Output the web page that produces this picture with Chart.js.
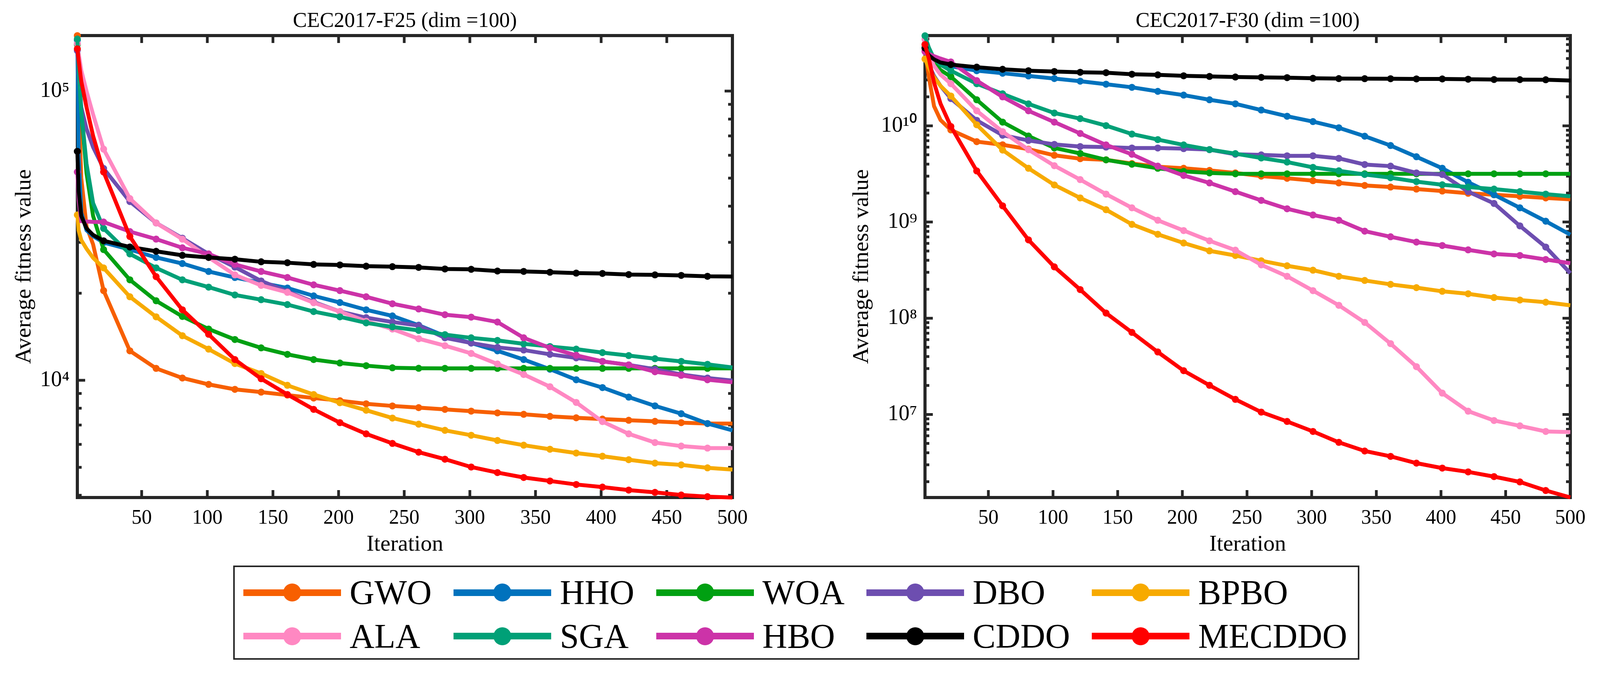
<!DOCTYPE html>
<html>
<head>
<meta charset="utf-8">
<script src="https://cdn.jsdelivr.net/npm/chart.js@4.4.1/dist/chart.umd.min.js"></script>
<style>
  body { margin: 0; width: 4102px; height: 1745px; background: #fff; position: relative; overflow: hidden; font-family: "Liberation Serif", serif; }
  canvas { position: absolute; top: 0; }
  #c1 { left: 0; }
  #c2 { left: 2051px; }
  #legend { position: absolute; left: 597px; top: 1447px; height: 241px; box-sizing: border-box;
            border: 4px solid #262626; padding: 10px 27px 0 22px;
            display: grid; grid-template-columns: repeat(5, auto); column-gap: 56px; }
  .item { display: flex; align-items: center; height: 110px; }
  .sample { position: relative; width: 250px; height: 17px; margin-right: 22px; }
  .sample i { position: absolute; left: 102px; top: -14.5px; width: 46px; height: 46px; border-radius: 50%; }
  .item span { font-size: 88px; line-height: 1; color: #000; }
</style>
</head>
<body>
<canvas id="c1" width="2051" height="1440"></canvas>
<canvas id="c2" width="2051" height="1440"></canvas>
<div id="legend"></div>
<script>
var iters = [1,2,4,8,13,21,41,61,81,101,121,141,161,181,201,221,241,261,281,301,321,341,361,381,401,421,441,461,481,500];
var xTicks = [50,100,150,200,250,300,350,400,450,500];

var names  = ["GWO","HHO","WOA","DBO","BPBO","ALA","SGA","HBO","CDDO","MECDDO"];
var colors = ["#F75F00","#0072BD","#00A012","#6D4EB0","#F7AA00","#FF88C2","#00A077","#CC33A8","#000000","#FF0000"];

// CEC2017-F25
var f25GWO    = [155500,90000,50000,34000,29500,20420,12640,10990,10180,9675,9300,9097,8886,8680,8500,8290,8150,8040,7930,7820,7710,7625,7500,7415,7340,7270,7210,7135,7085,7080];
var f25HHO    = [150000,60000,38000,33000,31500,29930,28310,26590,25330,23780,22660,21730,20840,19580,18570,17520,16690,15500,14220,13450,12640,11790,10920,10040,9434,8743,8155,7660,7085,6710];
var f25WOA    = [145000,120000,85000,52000,37000,28310,22250,18830,16620,15030,13830,12940,12290,11790,11470,11230,11040,11000,10990,10990,10990,10990,10990,10990,10990,10990,10990,10990,10990,10990];
var f25DBO    = [138000,115000,88000,74000,64000,54000,41500,35000,30990,27340,24630,22040,20280,18650,17280,16460,15900,15460,14020,13450,12990,12720,12290,11950,11620,11300,10920,10470,10180,9975];
var f25BPBO   = [37300,33000,30500,28500,26500,24460,19440,16570,14260,12810,11420,10550,9605,8927,8360,7875,7400,7048,6710,6452,6190,5962,5773,5600,5461,5311,5168,5098,4978,4908];
var f25ALA    = [146000,135000,118000,100000,83000,63000,42500,35000,30770,26590,23140,21280,20130,18540,17280,16000,15030,13920,13170,12380,11380,10470,9500,8380,7195,6525,6088,5920,5825,5825];
var f25SGA    = [151400,120000,85000,56000,41000,33500,27340,24460,22250,20990,19720,18990,18270,17280,16570,15790,15290,14870,14380,14020,13730,13360,13080,12810,12460,12170,11870,11620,11350,11070];
var f25HBO    = [52500,42000,35500,35400,35300,35250,32670,30770,28710,27340,25150,23780,22660,21380,20420,19440,18390,17640,16850,16530,15900,14020,12940,12200,11620,11300,10700,10400,10040,9840];
var f25CDDO   = [61900,45000,37000,33500,31800,30350,28900,27920,27040,26590,26220,25680,25500,25150,25040,24800,24700,24560,24260,24190,23860,23790,23630,23470,23400,23200,23140,23040,22880,22850];
var f25MECDDO = [140000,128000,108000,88000,70000,52500,31420,22820,17520,14420,11790,10120,8927,7930,7135,6525,6047,5640,5333,5011,4793,4610,4484,4360,4270,4170,4095,4010,3957,3930];

// CEC2017-F30
var f30GWO    = [6.5e10,5.0e10,3.2e10,1.6e10,1.15e10,9.06e9,6.85e9,6.35e9,5.72e9,4.94e9,4.55e9,4.43e9,4.05e9,3.76e9,3.62e9,3.44e9,3.24e9,3.0e9,2.85e9,2.69e9,2.55e9,2.40e9,2.31e9,2.20e9,2.10e9,1.99e9,1.92e9,1.85e9,1.78e9,1.72e9];
var f30HHO    = [6.5e10,6.0e10,5.3e10,4.8e10,4.45e10,4.16e10,3.74e10,3.52e10,3.30e10,3.10e10,2.91e10,2.707e10,2.513e10,2.281e10,2.086e10,1.865e10,1.693e10,1.458e10,1.257e10,1.107e10,9.54e9,7.80e9,6.24e9,4.77e9,3.62e9,2.59e9,1.92e9,1.405e9,1.02e9,7.40e8];
var f30WOA    = [7.0e10,6.3e10,5.5e10,4.5e10,3.8e10,3.24e10,1.864e10,1.093e10,7.83e9,5.89e9,5.16e9,4.43e9,3.99e9,3.62e9,3.36e9,3.24e9,3.17e9,3.17e9,3.17e9,3.17e9,3.17e9,3.17e9,3.17e9,3.17e9,3.17e9,3.17e9,3.17e9,3.17e9,3.17e9,3.17e9];
var f30DBO    = [6.0e10,5.5e10,4.3e10,3.3e10,2.6e10,1.92e10,1.14e10,7.99e9,7.05e9,6.41e9,6.09e9,6.01e9,5.88e9,5.88e9,5.79e9,5.66e9,5.06e9,4.99e9,4.88e9,4.88e9,4.59e9,3.96e9,3.81e9,3.24e9,3.12e9,2.07e9,1.56e9,9.12e8,5.49e8,2.94e8];
var f30BPBO   = [4.95e10,4.6e10,4.0e10,3.2e10,2.6e10,2.04e10,1.026e10,5.60e9,3.62e9,2.43e9,1.78e9,1.343e9,9.46e8,7.46e8,6.05e8,5.02e8,4.49e8,3.96e8,3.51e8,3.16e8,2.73e8,2.47e8,2.25e8,2.08e8,1.906e8,1.796e8,1.642e8,1.547e8,1.468e8,1.363e8];
var f30ALA    = [7.94e10,7.0e10,5.5e10,4.2e10,3.4e10,2.74e10,1.433e10,8.69e9,5.65e9,3.85e9,2.76e9,1.95e9,1.405e9,1.043e9,8.15e8,6.38e8,5.10e8,3.59e8,2.73e8,1.935e8,1.363e8,9.05e7,5.45e7,3.14e7,1.667e7,1.082e7,8.65e6,7.62e6,6.66e6,6.56e6];
var f30SGA    = [8.63e10,7.8e10,6.5e10,5.0e10,4.3e10,3.74e10,2.74e10,2.15e10,1.69e10,1.358e10,1.188e10,1.005e10,8.21e9,7.19e9,6.33e9,5.66e9,5.14e9,4.63e9,4.20e9,3.70e9,3.41e9,3.12e9,2.89e9,2.63e9,2.44e9,2.31e9,2.20e9,2.07e9,1.95e9,1.85e9];
var f30HBO    = [5.92e10,5.8e10,5.6e10,5.3e10,5.0e10,4.61e10,2.95e10,2.0e10,1.433e10,1.093e10,8.33e9,6.33e9,5.06e9,3.81e9,3.05e9,2.55e9,2.07e9,1.68e9,1.374e9,1.184e9,1.043e9,8.04e8,7.03e8,6.19e8,5.70e8,5.14e8,4.66e8,4.49e8,4.08e8,3.73e8];
var f30CDDO   = [6.44e10,6.0e10,5.4e10,4.9e10,4.55e10,4.33e10,4.07e10,3.87e10,3.74e10,3.67e10,3.6e10,3.567e10,3.437e10,3.386e10,3.311e10,3.262e10,3.214e10,3.19e10,3.166e10,3.12e10,3.096e10,3.09e10,3.085e10,3.073e10,3.07e10,3.05e10,3.027e10,3.02e10,3.01e10,2.96e10];
var f30MECDDO = [7.0e10,6.2e10,5.0e10,2.8e10,1.7e10,9.84e9,3.40e9,1.474e9,6.53e8,3.42e8,1.985e8,1.132e8,7.13e7,4.46e7,2.85e7,2.01e7,1.436e7,1.058e7,8.46e6,6.66e6,5.13e6,4.17e6,3.67e6,3.12e6,2.77e6,2.53e6,2.26e6,1.99e6,1.62e6,1.373e6];

var f25Range = [3930, 155600];
var f30Range = [1.37e6, 8.67e10];
var f25YTicks = [1e4, 1e5];
var f30YTicks = [1e7, 1e8, 1e9, 1e10];

var serif = "Liberation Serif";
var SUP = {"0":"\u2070","1":"\u00B9","2":"\u00B2","3":"\u00B3","4":"\u2074","5":"\u2075","6":"\u2076","7":"\u2077","8":"\u2078","9":"\u2079"};

function pow10Label(v) {
    var e = String(Math.round(Math.log10(v)));
    return "10" + e.split("").map(function(c) { return SUP[c]; }).join("");
}

// matlab-style box with inward ticks on all four sides
var frame = {
    id: "frame",
    beforeDatasetsDraw: function(chart) {
        var ctx = chart.ctx, a = chart.chartArea, x = chart.scales.x, y = chart.scales.y;
        ctx.save();
        ctx.strokeStyle = "#262626";
        ctx.lineWidth = 8;
        ctx.strokeRect(a.left, a.top, a.right - a.left, a.bottom - a.top);
        ctx.lineWidth = 7;
        ctx.beginPath();
        xTicks.forEach(function(v) {
            var px = x.getPixelForValue(v);
            ctx.moveTo(px, a.bottom); ctx.lineTo(px, a.bottom - 19);
            ctx.moveTo(px, a.top);    ctx.lineTo(px, a.top + 19);
        });
        var lo = Math.floor(Math.log10(y.min)), hi = Math.ceil(Math.log10(y.max));
        for (var e = lo; e <= hi; e++) {
            for (var m = 1; m < 10; m++) {
                var v = m * Math.pow(10, e);
                if (v < y.min || v > y.max) continue;
                var py = y.getPixelForValue(v), len = (m === 1) ? 20 : 11;
                ctx.moveTo(a.left, py);  ctx.lineTo(a.left + len, py);
                ctx.moveTo(a.right, py); ctx.lineTo(a.right - len, py);
            }
        }
        ctx.stroke();
        ctx.restore();
    }
};

function makeChart(id, title, series, range, yTicks, yWidth, yTitlePad, padRight) {
    var datasets = names.map(function(name, i) {
        return {
            label: name,
            data: iters.map(function(it, j) { return {x: it, y: series[i][j]}; }),
            borderColor: colors[i],
            backgroundColor: colors[i],
            borderWidth: 10,
            tension: 0,
            clip: false,
            order: names.length - i,
            pointRadius: function(c) { return (iters[c.dataIndex] - 1) % 20 === 0 ? 9 : 0; },
            pointBorderWidth: 0,
            pointHoverRadius: 0
        };
    });
    return new Chart(document.getElementById(id), {
        type: "line",
        data: { datasets: datasets },
        plugins: [frame],
        options: {
            responsive: false,
            devicePixelRatio: 1,
            animation: false,
            layout: { padding: { left: 0, top: 0, bottom: 0, right: padRight } },
            plugins: { legend: { display: false }, tooltip: { enabled: false } },
            scales: {
                x: {
                    type: "linear", min: 1, max: 500,
                    grid: { display: false, drawTicks: false }, border: { display: false },
                    afterBuildTicks: function(s) { s.ticks = xTicks.map(function(v) { return {value: v}; }); },
                    afterFit: function(s) { s.height = 167; },
                    ticks: { font: { family: serif, size: 52 }, color: "#000", padding: 22, maxRotation: 0, autoSkip: false },
                    title: { display: true, text: "Iteration", font: { family: serif, size: 58 }, color: "#000", padding: { top: 0, bottom: 11 } }
                },
                xTop: {
                    axis: "x", type: "linear", position: "top", min: 1, max: 500,
                    grid: { display: false, drawTicks: false }, border: { display: false }, ticks: { display: false },
                    afterFit: function(s) { s.height = 91; },
                    title: { display: true, text: title, font: { family: serif, size: 54 }, color: "#000", padding: { top: 22, bottom: 0 } }
                },
                y: {
                    type: "logarithmic", min: range[0], max: range[1],
                    grid: { display: false, drawTicks: false }, border: { display: false },
                    afterBuildTicks: function(s) { s.ticks = yTicks.map(function(v) { return {value: v}; }); },
                    afterFit: function(s) { s.width = yWidth; },
                    ticks: { callback: pow10Label, font: { family: serif, size: 56 }, color: "#000", padding: 20 },
                    title: { display: true, text: "Average fitness value", font: { family: serif, size: 58 }, color: "#000", padding: { top: yTitlePad, bottom: 0 } }
                }
            }
        }
    });
}

makeChart("c1", "CEC2017-F25 (dim =100)",
    [f25GWO, f25HHO, f25WOA, f25DBO, f25BPBO, f25ALA, f25SGA, f25HBO, f25CDDO, f25MECDDO],
    f25Range, f25YTicks, 198, 28, 176);
makeChart("c2", "CEC2017-F30 (dim =100)",
    [f30GWO, f30HHO, f30WOA, f30DBO, f30BPBO, f30ALA, f30SGA, f30HBO, f30CDDO, f30MECDDO],
    f30Range, f30YTicks, 317, 121, 82);

// shared legend under both panels, 5 columns x 2 rows
var legend = document.getElementById("legend");
names.forEach(function(name, i) {
    var item = document.createElement("div");
    item.className = "item";
    item.innerHTML = '<div class="sample" style="background:' + colors[i] + '"><i style="background:' + colors[i] + '"></i></div><span>' + name + '</span>';
    legend.appendChild(item);
});
</script>
</body>
</html>
